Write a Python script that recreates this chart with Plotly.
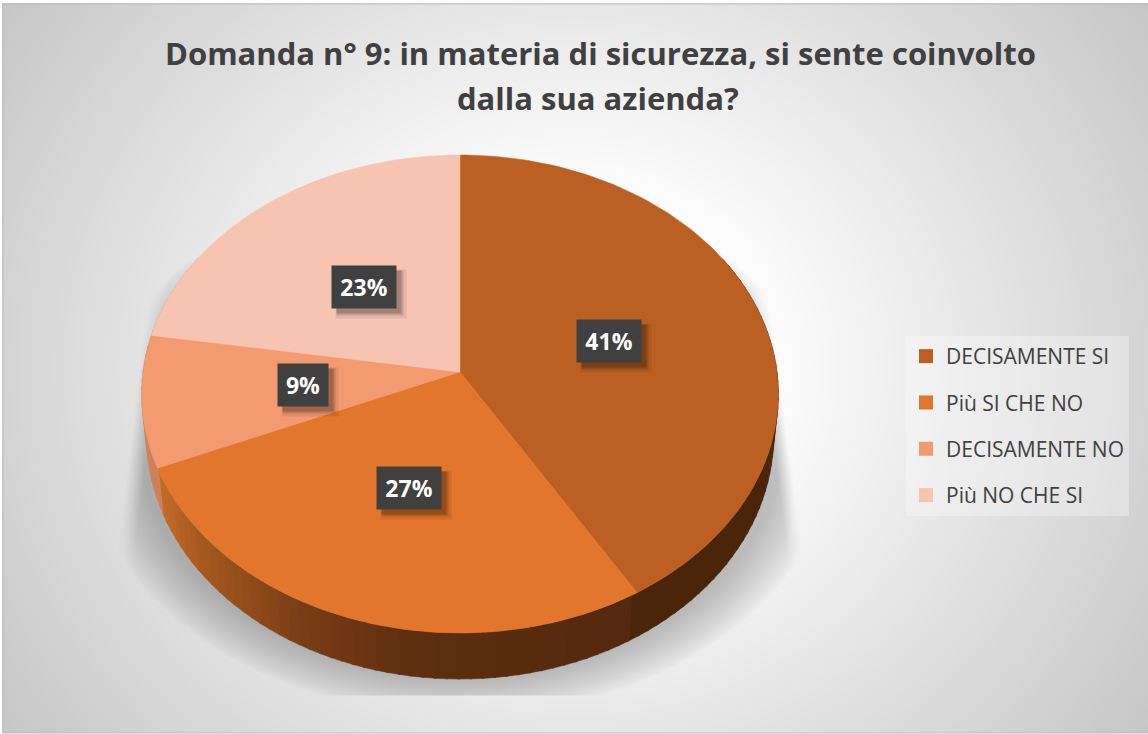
import numpy as np
import plotly.graph_objects as go

# ---- data ----
categories = ["DECISAMENTE SI", "Più SI CHE NO", "DECISAMENTE NO", "Più NO CHE SI"]
values = [41.4, 27.2, 8.9, 22.5]
labels = ["41%", "27%", "9%", "23%"]
slice_colors = ["#BB6022", "#E2762C", "#F49A71", "#F8C4B2"]
title_lines = ["Domanda n° 9: in materia di sicurezza, si sente coinvolto", "dalla sua azienda?"]

# ---- layout constants ----
W, H = 1148, 734
CX, CY, AX, AY, K, DEPTH = 460, 372, 317, 237, 0.092, 41.8
BOTTOM_SCALE = 0.985
label_nudge = [(4, -1), (-2, 3), (-5, -1), (0, -1)]


def project(theta_deg, r=1.0, drop=0.0, xscale=1.0):
    th = np.radians(theta_deg)
    u, v = r * np.sin(th), r * np.cos(th)
    d = 1 + K * v
    return CX + xscale * AX * u / d, CY - AY * v / d + drop / d


# ---- background + shadow as a grey field ----
xs = np.arange(3, W + 1, 2.0)
ys = np.arange(4, 733, 2.0)
gx, gy = np.meshgrid(xs, ys)
dist = np.hypot(gx - 574, (gy - 367) * 1.1)
bg = 255 - 0.109 * np.clip(dist - 180, 0, None)
t = np.hypot((gx - 460) / 362, (gy - 445) / 262)
ell = np.clip((1.03 - t) / 0.15, 0, 1) ** 0.8
xl = 130 - 0.118 * (gy - 440)
xr = 782 + 0.133 * (gy - 400)
wedge = np.clip((gx - xl) / 18, 0, 1) * np.clip((xr - gx) / 15, 0, 1)
shadow = ell * wedge * (gy < 696)
field = np.clip(bg * (1 - 0.24 * shadow), 0, 255).astype(np.uint8)

fig = go.Figure()
fig.add_trace(go.Heatmap(x=xs, y=ys, z=field, zmin=0, zmax=255, zsmooth="best",
                         colorscale=[[0, "#000000"], [1, "#ffffff"]],
                         showscale=False, hoverinfo="skip"))

# ---- slices' angular extents come from the values ----
total = sum(values)
edges = np.concatenate([[0], np.cumsum(values)]) * 360.0 / total


def side_color(i, x):
    if i == 0:
        return "#4A2509"
    if i == 2:
        return "#CC8258"
    if i == 3:
        return "#D9A58F"
    stops_x = [150, 165, 200, 300, 400, 460, 640]
    r_ = [0xC6, 0xBE, 0xA5, 0x7A, 0x60, 0x5B, 0x54]
    g_ = [0x6F, 0x69, 0x59, 0x3E, 0x30, 0x2E, 0x29]
    b_ = [0x2C, 0x28, 0x1F, 0x16, 0x11, 0x10, 0x0F]
    return "rgb(%d,%d,%d)" % (np.interp(x, stops_x, r_), np.interp(x, stops_x, g_), np.interp(x, stops_x, b_))


# side wall strips
step = 2.0
for a0 in np.arange(60, 300, step):
    a1 = a0 + step + 0.4
    mid = a0 + step / 2
    i = int(np.searchsorted(edges, mid) - 1)
    i = min(max(i, 0), 3)
    aa = np.array([a0, a1])
    x1, y1 = project(aa)
    x2, y2 = project(aa[::-1], drop=DEPTH, xscale=BOTTOM_SCALE)
    c = side_color(i, (x1[0] + x1[1]) / 2)
    fig.add_trace(go.Scatter(x=list(x1) + list(x2), y=list(y1) + list(y2), mode="lines",
                             fill="toself", fillcolor=c, line=dict(width=0.5, color=c),
                             showlegend=False, hoverinfo="skip"))

# top faces
for i, cat in enumerate(categories):
    aa = np.linspace(edges[i], edges[i + 1], 120)
    x, y = project(aa)
    fig.add_trace(go.Scatter(x=[CX] + list(x) + [CX], y=[CY] + list(y) + [CY], mode="lines",
                             fill="toself", fillcolor=slice_colors[i],
                             line=dict(width=0.5, color=slice_colors[i]),
                             name=cat, showlegend=False, hoverinfo="skip"))

# legend entries
for i, cat in enumerate(categories):
    fig.add_trace(go.Scatter(x=[None], y=[None], mode="markers", name=cat, legendgroup=cat,
                             marker=dict(symbol="square", size=14, color=slice_colors[i])))

# data labels with soft shadow
annotations = []
for i, lab in enumerate(labels):
    mid = (edges[i] + edges[i + 1]) / 2
    lx, ly = project(mid, r=0.48)
    lx += label_nudge[i][0]
    ly += label_nudge[i][1]
    w = 50 if len(lab) == 2 else 64
    for off, alpha, extra in [(7, 0.08, 6), (6, 0.12, 2), (5, 0.18, 0)]:
        annotations.append(dict(x=lx + off, y=ly + off, xref="x", yref="y", text=" ", showarrow=False,
                                width=w + extra, height=42 + extra, bgcolor=f"rgba(0,0,0,{alpha})",
                                font=dict(size=10), borderpad=0))
    annotations.append(dict(x=lx, y=ly, xref="x", yref="y", text=f"<b>{lab}</b>", showarrow=False,
                            width=w, height=42, bgcolor="#404040", borderpad=0, align="center",
                            valign="middle",
                            font=dict(family="Open Sans", size=23, color="#ffffff")))

# two-line title
for line, tx, ty in zip(title_lines, [600.5, 598], [53, 98]):
    annotations.append(dict(x=tx, y=ty, xref="x", yref="y", text=f"<b>{line}</b>", showarrow=False,
                            font=dict(family="Open Sans", size=31, color="#404040")))

fig.update_layout(
    width=W, height=H, margin=dict(l=0, r=0, t=0, b=0),
    paper_bgcolor="#ffffff", plot_bgcolor="#ffffff",
    xaxis=dict(range=[0, W], visible=False, fixedrange=True),
    yaxis=dict(range=[H, 0], visible=False, fixedrange=True),
    legend=dict(x=906 / W, xanchor="left", y=1 - 336 / H, yanchor="top",
                bgcolor="rgba(255,255,255,0.3)", tracegroupgap=16, traceorder="grouped",
                font=dict(family="Open Sans", size=21, color="#404040")),
    annotations=annotations,
    shapes=[dict(type="rect", xref="x", yref="y", x0=3, x1=W + 2, y0=4, y1=733,
                 line=dict(color="#bdbdbd", width=1), fillcolor="rgba(0,0,0,0)")],
    showlegend=True,
)
fig.write_html("out.html", config={"displayModeBar": False},
               post_script="document.body.style.margin='0';")
